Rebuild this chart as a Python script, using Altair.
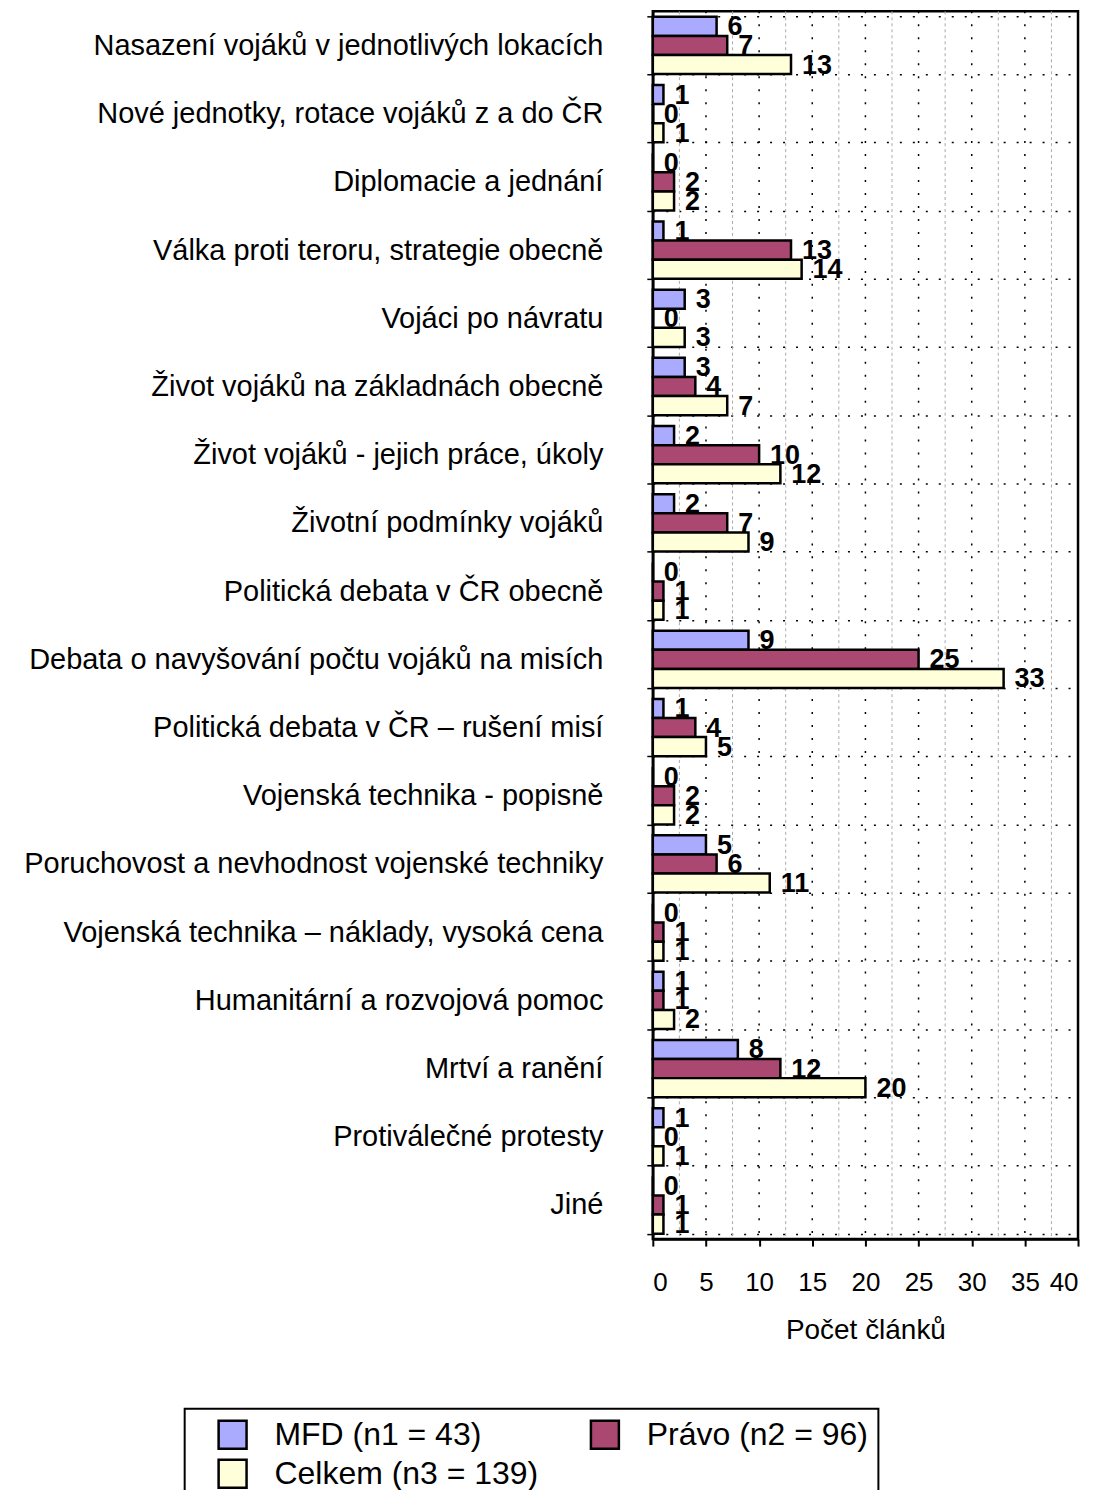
import altair as alt
import pandas as pd

categories = [
    "Nasazení vojáků v jednotlivých lokacích",
    "Nové jednotky, rotace vojáků z a do ČR",
    "Diplomacie a jednání",
    "Válka proti teroru, strategie obecně",
    "Vojáci po návratu",
    "Život vojáků na základnách obecně",
    "Život vojáků - jejich práce, úkoly\u00a0",
    "Životní podmínky vojáků",
    "Politická debata v ČR obecně",
    "Debata o navyšování počtu vojáků na misích",
    "Politická debata v ČR – rušení misí",
    "Vojenská technika - popisně",
    "Poruchovost a nevhodnost vojenské techniky",
    "Vojenská technika – náklady, vysoká cena",
    "Humanitární a rozvojová pomoc",
    "Mrtví a ranění",
    "Protiválečné protesty",
    "Jiné",
]
mfd = [6, 1, 0, 1, 3, 3, 2, 2, 0, 9, 1, 0, 5, 0, 1, 8, 1, 0]
pravo = [7, 0, 2, 13, 0, 4, 10, 7, 1, 25, 4, 2, 6, 1, 1, 12, 0, 1]
celkem = [13, 1, 2, 14, 3, 7, 12, 9, 1, 33, 5, 2, 11, 1, 2, 20, 1, 1]
series = ["MFD (n1 = 43)", "Právo (n2 = 96)", "Celkem (n3 = 139)"]
colors = ["#aaaaff", "#aa4872", "#ffffd9"]
major_grid = [5, 10, 15, 20, 25, 30, 35]
minor_grid = [2.5, 7.5, 12.5, 17.5, 22.5, 27.5, 32.5, 37.5]
tick_values = [0, 2.5, 5, 7.5, 10, 12.5, 15, 17.5, 20, 22.5, 25, 27.5, 30, 32.5, 35, 37.5, 40]

FONT = "Liberation Sans"

rows = []
for i, c in enumerate(categories):
    for s, vals in zip(series, [mfd, pravo, celkem]):
        rows.append({"kategorie": c, "serie": s, "pocet": vals[i]})
df = pd.DataFrame(rows)

xscale = alt.Scale(domain=[0, 40], nice=False)

x_enc = alt.X(
    "pocet:Q",
    scale=xscale,
    axis=alt.Axis(
        values=tick_values,
        labelExpr="datum.value % 5 === 0 ? datum.label : ''",
        labelOverlap=False,
        grid=False,
        title="Počet článků",
        titleFontSize=28,
        titleFontWeight="normal",
        titleFont=FONT,
        titleColor="black",
        titlePadding=22,
        labelFontSize=26,
        labelFont=FONT,
        labelColor="black",
        labelPadding=23,
        tickSize=7,
        tickColor="black",
        tickWidth=2,
        domainColor="black",
        domainWidth=2.5,
    ),
)

y_enc = alt.Y(
    "kategorie:N",
    sort=categories,
    scale=alt.Scale(paddingInner=0.16, paddingOuter=0.08),
    axis=alt.Axis(
        title=None,
        labelFontSize=29,
        labelFont=FONT,
        labelColor="black",
        labelPadding=44,
        labelLimit=800,
        tickSize=6,
        tickColor="black",
        tickWidth=1.5,
        tickBand="extent",
        grid=True,
        gridColor="black",
        gridDash=[2, 11],
        gridWidth=1.5,
        domainColor="black",
        domainWidth=2.5,
    ),
)

yoff = alt.YOffset("serie:N", sort=series, scale=alt.Scale(domain=series, paddingInner=0, paddingOuter=0))

minor = alt.Chart(pd.DataFrame({"pocet": minor_grid})).mark_rule(
    color="#aaaaaa", strokeDash=[3, 3], strokeWidth=1
).encode(x=alt.X("pocet:Q", scale=xscale))

major = alt.Chart(pd.DataFrame({"pocet": major_grid})).mark_rule(
    color="black", strokeDash=[2, 11], strokeWidth=1.5
).encode(x=alt.X("pocet:Q", scale=xscale))

bars = alt.Chart(df).mark_bar(stroke="black", strokeWidth=2.5, opacity=1).encode(
    x=x_enc,
    y=y_enc,
    yOffset=yoff,
    fill=alt.Fill(
        "serie:N",
        sort=series,
        scale=alt.Scale(domain=series, range=colors),
        legend=alt.Legend(
            orient="none",
            legendX=-469,
            legendY=1400,
            direction="horizontal",
            columns=2,
            title=None,
            symbolType="square",
            symbolSize=784,
            symbolStrokeColor="black",
            symbolStrokeWidth=2.5,
            symbolOpacity=1,
            symbolOffset=22,
            labelFontSize=32,
            labelFont=FONT,
            labelColor="black",
            labelOffset=26,
            labelLimit=500,
            rowPadding=1,
            columnPadding=28,
            padding=10,
            strokeColor="black",
        ),
    ),
)

labels = alt.Chart(df).mark_text(
    align="left", baseline="middle", dx=11, dy=1, fontSize=27, fontWeight="bold", font=FONT, color="black"
).encode(x=alt.X("pocet:Q", scale=xscale), y=alt.Y("kategorie:N", sort=categories), yOffset=yoff, text="pocet:Q")

chart = (
    alt.layer(minor, major, bars, labels)
    .properties(
        width=426,
        height=1230,
        autosize=alt.AutoSizeParams(type="none"),
        padding={"left": 646, "top": 2, "right": 15, "bottom": 250},
    )
    .configure_view(stroke="black", strokeWidth=2.5)
    .configure_legend(strokeWidth=2)
)

chart.save("out.html", embed_options={"renderer": "svg", "actions": False})
